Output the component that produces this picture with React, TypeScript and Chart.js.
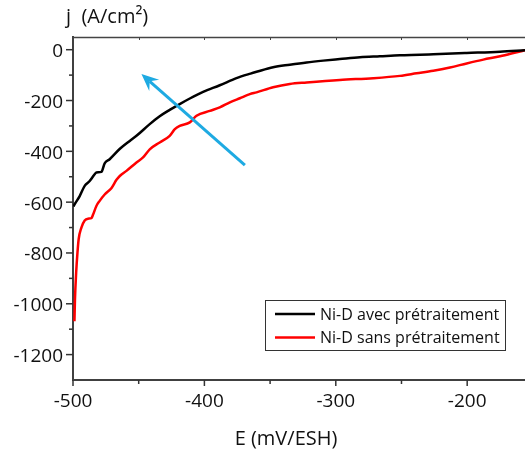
import React, { useEffect, useRef } from "react";
import { Chart, registerables } from "chart.js";

Chart.register(...registerables);

const seriesNames = ["Ni-D avec prétraitement", "Ni-D sans prétraitement"];
const seriesColors = ["#000000", "#ff0000"];

const blackE = [-499.6, -498.7, -494.9, -491.1, -487.3, -483.5, -482.2, -478.4, -475.9, -472.1, -464.5, -456.8, -451.7, -441.6, -434, -426.4, -418.8, -411.1, -401, -388.3, -375.6, -364.9, -360.3, -347.7, -335, -322.2, -309.6, -296.9, -281.6, -266.4, -251.2, -236, -225.8, -200.4, -175, -156];
const blackJ = [-617, -608, -576, -536, -517, -490, -483, -481, -447, -431, -391, -359, -339, -293, -262, -237, -214, -192, -166, -140, -112, -94, -87, -69, -59, -50, -43, -37, -30, -26, -22, -20, -18, -13, -8, -2];

const redE = [-498.9, -498.5, -497.6, -496.6, -495.7, -493.6, -491.1, -488.6, -486, -484.8, -482.2, -479.7, -475.9, -470.8, -466.9, -464.4, -459.3, -451.7, -446.7, -441.6, -434, -426.4, -422.5, -418.8, -411.1, -406, -395.9, -388.3, -380.6, -373, -365.4, -360.3, -347.7, -335, -322.2, -296.9, -271.5, -251.2, -238.5, -225.8, -213.1, -200.4, -187.7, -175, -162.3, -156];
const redJ = [-1069, -983, -878, -799, -746, -700, -672, -665, -663, -650, -615, -595, -570, -545, -512, -497, -477, -444, -424, -392, -365, -339, -313, -300, -286, -260, -241, -227, -207, -191, -175, -168, -148, -135, -129, -119, -112, -103, -93, -83, -70, -54, -39, -26, -10, -2];

const xMajorTicks = [-500, -400, -300, -200];
const xMinorTicks = [-450, -350, -250];
const yMajorTicks = [-1200, -1000, -800, -600, -400, -200, 0];
const yMinorTicks = [-1100, -900, -700, -500, -300, -100];

const arrowTail = { E: -369.2, j: -454.6 };
const arrowTip = { E: -447.9, j: -95.8 };

const xTitle = "E (mV/ESH)";
const yTitle = "j  (A/cm²)";

const FONT = "'Open Sans', 'Liberation Sans', sans-serif";

const decorPlugin = {
  id: "decor",
  afterDraw(chart: any) {
    const ctx = chart.ctx;
    const xs = chart.scales.x;
    const ys = chart.scales.y;
    const ca = chart.chartArea;
    ctx.save();
    // top border with inward ticks
    ctx.strokeStyle = "#444";
    ctx.lineWidth = 1.3;
    ctx.beginPath();
    ctx.moveTo(ca.left, ca.top + 0.5);
    ctx.lineTo(ca.right, ca.top + 0.5);
    ctx.stroke();
    ctx.lineWidth = 1;
    [...xMajorTicks, ...xMinorTicks].forEach((v) => {
      const px = Math.round(xs.getPixelForValue(v)) + 0.5;
      ctx.beginPath();
      ctx.moveTo(px, ca.top);
      ctx.lineTo(px, ca.top + 3);
      ctx.stroke();
    });
    // axis ticks
    ctx.strokeStyle = "#333";
    ctx.lineWidth = 1.5;
    const drawT = (vals: number[], len: number) => {
      vals.forEach((v) => {
        const py = ys.getPixelForValue(v);
        ctx.beginPath();
        ctx.moveTo(ca.left, py);
        ctx.lineTo(ca.left - len, py);
        ctx.stroke();
      });
    };
    drawT(yMajorTicks, 7);
    drawT(yMinorTicks, 4);
    const drawXT = (vals: number[], len: number) => {
      vals.forEach((v) => {
        const px = xs.getPixelForValue(v);
        ctx.beginPath();
        ctx.moveTo(px, ca.bottom);
        ctx.lineTo(px, ca.bottom + len);
        ctx.stroke();
      });
    };
    drawXT(xMajorTicks, 6);
    drawXT(xMinorTicks, 4);

    // arrow
    const tx = xs.getPixelForValue(arrowTail.E);
    const ty = ys.getPixelForValue(arrowTail.j);
    const hx = xs.getPixelForValue(arrowTip.E);
    const hy = ys.getPixelForValue(arrowTip.j);
    const dx = hx - tx;
    const dy = hy - ty;
    const L = Math.hypot(dx, dy);
    const ux = dx / L;
    const uy = dy / L;
    const nx = -uy;
    const ny = ux;
    const headLen = 17;
    const headW = 7.5;
    const notch = 11;
    ctx.strokeStyle = "#1eaae2";
    ctx.fillStyle = "#1eaae2";
    ctx.lineWidth = 3;
    ctx.beginPath();
    ctx.moveTo(tx, ty);
    ctx.lineTo(hx - ux * notch, hy - uy * notch);
    ctx.stroke();
    ctx.beginPath();
    ctx.moveTo(hx, hy);
    ctx.lineTo(hx - ux * headLen + nx * headW, hy - uy * headLen + ny * headW);
    ctx.lineTo(hx - ux * notch, hy - uy * notch);
    ctx.lineTo(hx - ux * headLen - nx * headW, hy - uy * headLen - ny * headW);
    ctx.closePath();
    ctx.fill();

    // legend
    const bx = 265.5, by = 300.5, bw = 240, bh = 50;
    ctx.fillStyle = "#fff";
    ctx.fillRect(bx, by, bw, bh);
    ctx.strokeStyle = "#333";
    ctx.lineWidth = 1;
    ctx.strokeRect(bx, by, bw, bh);
    ctx.font = `16px ${FONT}`;
    ctx.textAlign = "left";
    ctx.textBaseline = "middle";
    chart.data.datasets.forEach((ds: any, i: number) => {
      const ly = 314 + i * 23.5;
      ctx.strokeStyle = ds.borderColor;
      ctx.lineWidth = 2.5;
      ctx.beginPath();
      ctx.moveTo(275, ly);
      ctx.lineTo(315, ly);
      ctx.stroke();
      ctx.fillStyle = "#111";
      ctx.fillText(ds.label, 320, ly + 1);
    });

    // titles
    ctx.fillStyle = "#111";
    ctx.font = `20px ${FONT}`;
    ctx.textAlign = "left";
    ctx.textBaseline = "middle";
    ctx.fillText(yTitle, 66, 17);
    ctx.textAlign = "center";
    ctx.fillText(xTitle, 286, 439);
    ctx.restore();
  },
};

export default function App() {
  const ref = useRef<HTMLCanvasElement | null>(null);
  useEffect(() => {
    if (!ref.current) return;
    const chart = new Chart(ref.current, {
      type: "line",
      data: {
        datasets: [
          {
            label: seriesNames[0],
            data: blackE.map((e, i) => ({ x: e, y: blackJ[i] })),
            borderColor: seriesColors[0],
            borderWidth: 2.5,
            pointRadius: 0,
            cubicInterpolationMode: "monotone",
          },
          {
            label: seriesNames[1],
            data: redE.map((e, i) => ({ x: e, y: redJ[i] })),
            borderColor: seriesColors[1],
            borderWidth: 2.5,
            pointRadius: 0,
            cubicInterpolationMode: "monotone",
          },
        ],
      },
      options: {
        animation: false,
        responsive: false,
        devicePixelRatio: 1,
        layout: { padding: { top: 37, left: 0, right: 0, bottom: 0 } },
        plugins: { legend: { display: false }, tooltip: { enabled: false } },
        scales: {
          x: {
            type: "linear",
            min: -500,
            max: -156,
            afterFit: (s: any) => {
              s.height = 72;
            },
            afterBuildTicks: (s: any) => {
              s.ticks = xMajorTicks.map((v) => ({ value: v }));
            },
            grid: { display: false, drawTicks: false },
            border: { display: true, color: "#404040", width: 2 },
            ticks: {
              font: { family: FONT, size: 19 },
              color: "#111",
              padding: 10,
              maxRotation: 0,
              autoSkip: false,
              callback: (v: any) => String(v),
            },
          },
          y: {
            type: "linear",
            min: -1300,
            max: 50,
            afterFit: (s: any) => {
              s.width = 73;
            },
            afterBuildTicks: (s: any) => {
              s.ticks = yMajorTicks.map((v) => ({ value: v }));
            },
            grid: { display: false, drawTicks: false },
            border: { display: true, color: "#404040", width: 2 },
            ticks: {
              font: { family: FONT, size: 19 },
              color: "#111",
              padding: 10,
              labelOffset: 2,
              autoSkip: false,
              callback: (v: any) => String(v),
            },
          },
        },
      },
      plugins: [decorPlugin],
    });
    return () => chart.destroy();
  }, []);
  return (
    <div style={{ position: "fixed", left: 0, top: 0, width: 525, height: 452, background: "#fff" }}>
      <canvas ref={ref} width={525} height={452} />
    </div>
  );
}
